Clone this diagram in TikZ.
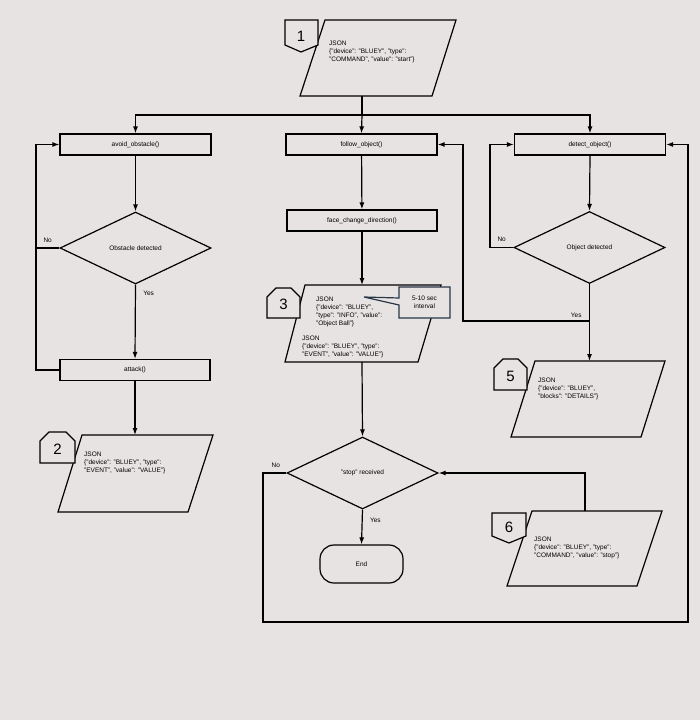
\documentclass[tikz,border=0pt]{standalone}
\usepackage{fontspec}
\setmainfont{Liberation Sans}
\usetikzlibrary{shapes.geometric,arrows.meta}
\definecolor{bg}{RGB}{231,227,226}
\definecolor{callb}{RGB}{40,55,72}
\begin{document}
\begin{tikzpicture}[x=1pt,y=-1pt,
  box/.style={draw,line width=1.2pt,minimum width=151pt,minimum height=21pt,inner sep=0pt,font=\fontsize{6.5}{7}\selectfont},
  dia/.style={draw,diamond,line width=1.2pt,minimum width=151pt,minimum height=72pt,aspect=2.1,inner sep=0pt,font=\fontsize{6.5}{7}\selectfont},
  para/.style={draw,line width=1.2pt},
  ptxt/.style={align=left,font=\fontsize{6.5}{8}\selectfont,inner sep=0pt,anchor=west},
  lab/.style={font=\fontsize{6.5}{7}\selectfont},
  badge/.style={draw,line width=1.2pt,fill=bg},
  line/.style={line width=1.2pt},
  arr/.style={line width=1.2pt,-{Latex[length=7pt,width=5pt]}}]
\fill[bg] (0,0) rectangle (700,720);
\useasboundingbox (0,0) rectangle (700,720);
% parallelogram 1
\draw[para] (325,20)--(456,20)--(432,96)--(300,96)--cycle;
\coordinate (p1b) at (362,96);
\node[ptxt] (t1) at (329,52) {JSON\\\{"device": "BLUEY", "type":\\"COMMAND", "value": "start"\}};
\draw[badge] (285,20)--(318,20)--(318,45)--(301,52)--(285,45)--cycle;
\node[font=\fontsize{15}{15}\selectfont] (b1) at (301,36) {1};
% boxes
\node[box] (avoid) at (135.5,144.5) {avoid\_obstacle()};
\node[box] (follow) at (361.5,144.5) {follow\_object()};
\node[box] (detect) at (590,144.5) {detect\_object()};
\coordinate (j1) at (362,115);
\draw[line] (p1b)--(j1);
\draw[arr] (j1)-|(avoid.north);
\draw[arr] (j1)-|(detect.north);
\draw[arr] (j1)--(follow.north);
% left column
\node[dia] (obs) at (135.5,248) {Obstacle detected};
\node[box,minimum width=150pt] (attack) at (135,370) {attack()};
\draw[arr] (avoid)--(obs);
\draw[arr] (obs.south)--node[lab,pos=0.12,right=4pt]{Yes}(attack.north);
\coordinate (lx) at (36,248);
\draw[line] (obs.west)--node[lab,above=2pt,pos=0.5]{No}(lx);
\draw[arr] (attack.west)-|(36,144.5)--(avoid.west);
\draw[para] (82,435)--(213,435)--(188,512)--(58,512)--cycle;
\coordinate (p2t) at (135,435);
\draw[arr] (attack.south)--(p2t);
\node[ptxt] (t2) at (84,463) {JSON\\\{"device": "BLUEY", "type":\\"EVENT", "value": "VALUE"\}};
\draw[badge] (40,441)--(49,432)--(66,432)--(75,441)--(75,463)--(40,463)--cycle;
\node[font=\fontsize{15}{15}\selectfont] (b2) at (57.5,449) {2};
% middle column
\node[box,minimum width=150pt] (face) at (362,220.5) {face\_change\_direction()};
\draw[arr] (follow)--(face);
\draw[para] (305,285)--(441,285)--(418,362)--(285,362)--cycle;
\coordinate (p3t) at (362,285);
\coordinate (p3b) at (362,362);
\draw[arr] (face.south)--(p3t);
\node[ptxt] (t3) at (316,312) {JSON\\\{"device": "BLUEY",\\"type": "INFO", "value":\\"Object Ball"\}};
\node[ptxt] (t3b) at (302,347) {JSON\\\{"device": "BLUEY", "type":\\"EVENT", "value": "VALUE"\}};
\draw[callb,line width=1.2pt,fill=bg] (399,287)--(450,287)--(450,318)--(399,318)--(399,305)--(364,297)--(399,298)--cycle;
\node[align=center,font=\fontsize{6.5}{8}\selectfont] (cl) at (424.5,302) {5-10 sec\\interval};
\draw[badge] (267,297)--(276,288)--(291,288)--(300,297)--(300,318)--(267,318)--cycle;
\node[font=\fontsize{15}{15}\selectfont] (b3) at (283.5,304) {3};
\node[dia] (stop) at (362.5,473) {"stop" received};
\draw[arr] (p3b)--(stop.north);
\node[draw,line width=1.2pt,rounded corners=14pt,minimum width=83pt,minimum height=38pt,font=\fontsize{6.5}{7}\selectfont] (end) at (361.5,564) {End};
\draw[arr] (stop.south)--node[lab,pos=0.3,right=4pt]{Yes}(end.north);
\draw[arr] (stop.west)--node[lab,above=2pt,pos=0.45]{No}(263,473)--(263,622)--(688,622)--(688,144.5)--(detect.east);
% right column
\node[dia] (objd) at (589.5,247.5) {Object detected};
\draw[arr] (detect.south)--(objd.north);
\draw[arr] (objd.west)--node[lab,above=2pt,pos=0.5]{No}(490,247.5)|-(detect.west);
\draw[para] (535,361)--(665,361)--(641,437)--(511,437)--cycle;
\coordinate (p5t) at (589.5,361);
\coordinate (jy) at (589.5,321);
\draw[arr] (objd.south)--node[lab,pos=0.4,left=4pt]{Yes}(p5t);
\draw[arr] (jy)-|(463,144.5)--(follow.east);
\node[ptxt] (t5) at (538,389) {JSON\\\{"device": "BLUEY",\\"blocks": "DETAILS"\}};
\draw[badge] (494,368)--(503,359)--(518,359)--(527,368)--(527,390)--(494,390)--cycle;
\node[font=\fontsize{15}{15}\selectfont] (b5) at (510.5,376) {5};
\draw[para] (532,511)--(662,511)--(637,586)--(507,586)--cycle;
\coordinate (p6t) at (585,511);
\draw[arr] (p6t)|-(stop.east);
\node[ptxt] (t6) at (534,548) {JSON\\\{"device": "BLUEY", "type":\\"COMMAND", "value": "stop"\}};
\draw[badge] (492,513)--(526,513)--(526,536)--(509,543)--(492,536)--cycle;
\node[font=\fontsize{15}{15}\selectfont] (b6) at (509,527) {6};
\end{tikzpicture}
\end{document}
